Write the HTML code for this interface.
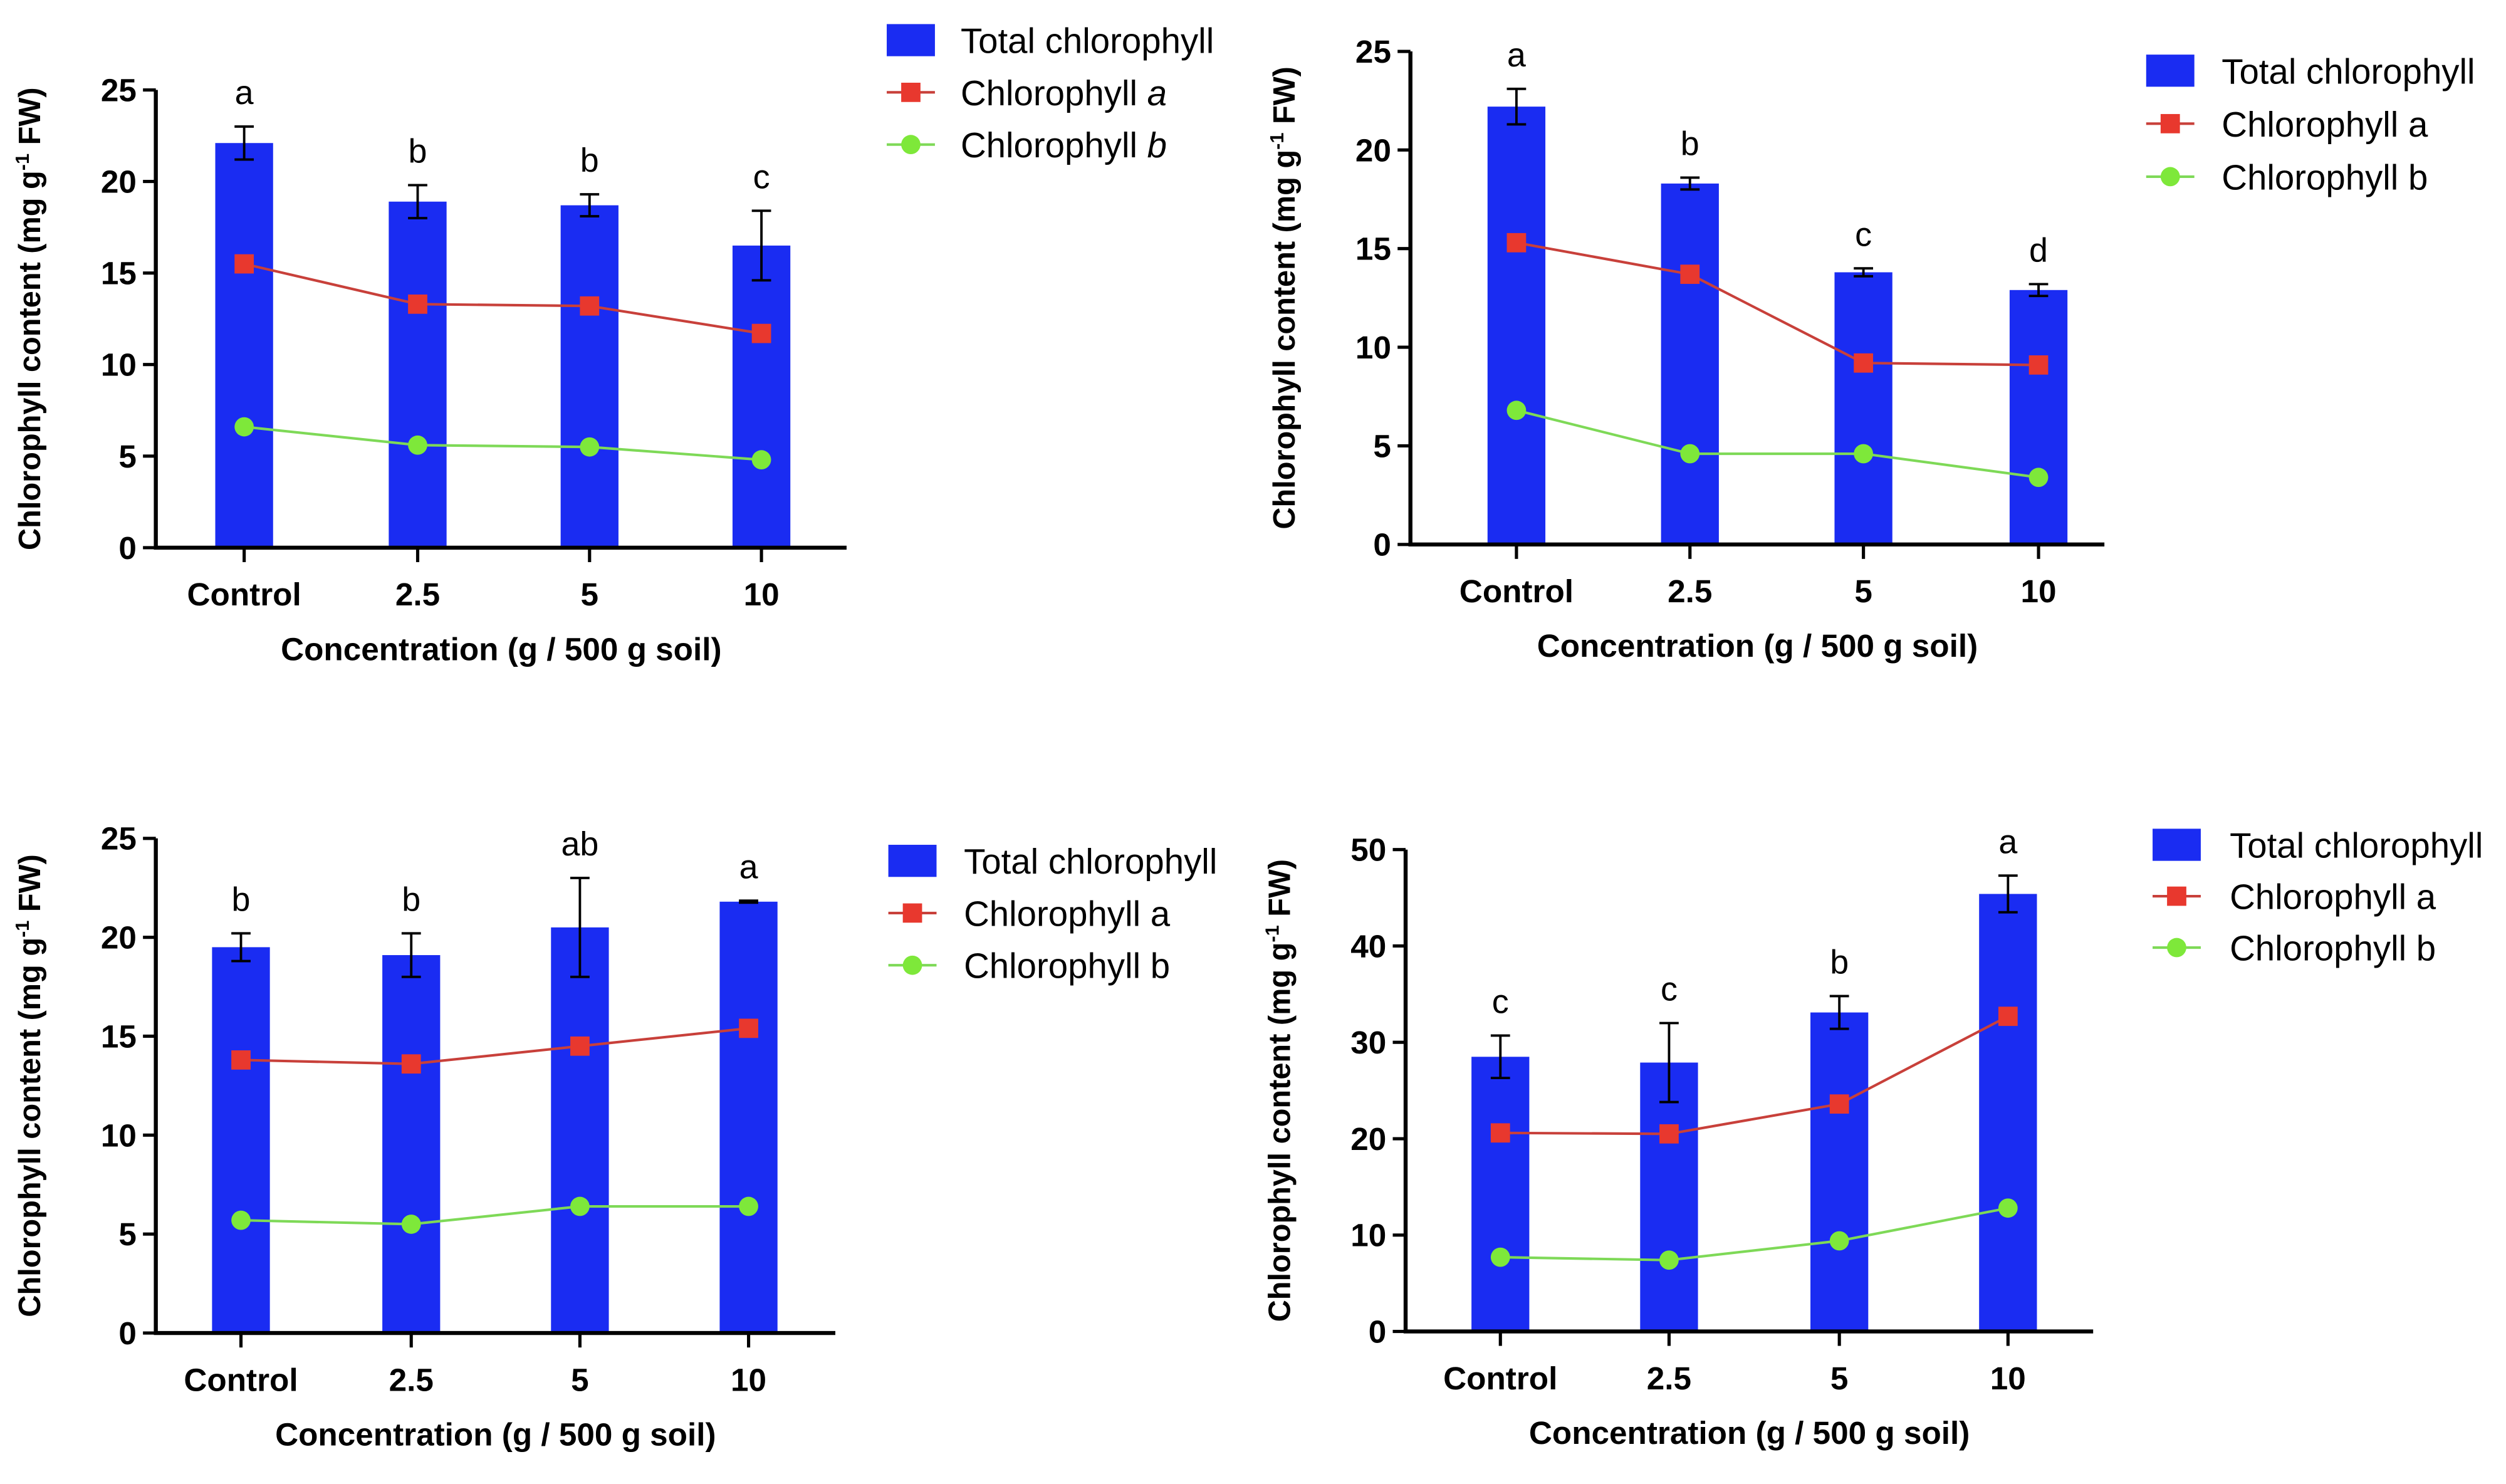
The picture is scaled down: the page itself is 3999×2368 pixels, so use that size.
<!DOCTYPE html>
<html><head><meta charset="utf-8"><style>
html,body{margin:0;padding:0;background:#fff;}
svg{display:block;}
text{font-family:"Liberation Sans Narrow","Liberation Sans",sans-serif;}
</style></head><body>
<svg id="fig" width="3999" height="2368" viewBox="0 0 1560 924" preserveAspectRatio="none" xmlns="http://www.w3.org/2000/svg"></svg>
<script>
const categories = ["Control","2.5","5","10"];
const tlTotal = [22.1,18.9,18.7,16.5];
const tlTotalErr = [0.9,0.9,0.6,1.9];
const tlA = [15.5,13.3,13.2,11.7];
const tlB = [6.6,5.6,5.5,4.8];
const tlLetters = ["a","b","b","c"];
const trTotal = [22.2,18.3,13.8,12.9];
const trTotalErr = [0.9,0.3,0.2,0.3];
const trA = [15.3,13.7,9.2,9.1];
const trB = [6.8,4.6,4.6,3.4];
const trLetters = ["a","b","c","d"];
const blTotal = [19.5,19.1,20.5,21.8];
const blTotalErr = [0.7,1.1,2.5,0.05];
const blA = [13.8,13.6,14.5,15.4];
const blB = [5.7,5.5,6.4,6.4];
const blLetters = ["b","b","ab","a"];
const brTotal = [28.5,27.9,33.1,45.4];
const brTotalErr = [2.2,4.1,1.7,1.9];
const brA = [20.6,20.5,23.6,32.7];
const brB = [7.7,7.4,9.4,12.8];
const brLetters = ["c","c","b","a"];
const ticks25 = [0,5,10,15,20,25];
const ticks50 = [0,10,20,30,40,50];

const NS="http://www.w3.org/2000/svg";
const svg=document.getElementById('fig');
function mk(tag,attrs,parent,txt){const e=document.createElementNS(NS,tag);for(const k in attrs)e.setAttribute(k,attrs[k]);if(txt!==undefined)e.textContent=txt;(parent||svg).appendChild(e);return e;}

function chart(p){
  const g=mk('g',{});
  
  
  const y=v=>p.y0-(v/p.max)*(p.y0-p.yTop);
  const bw=36;
  p.total.forEach((v,i)=>{
    const b=mk('rect',{x:p.cx[i]-bw/2,y:y(v),width:bw,height:p.y0-y(v),fill:'#1a2cf2'},g);
    
    
    const e=p.err[i];
    const eb=mk('path',{d:`M${p.cx[i]} ${y(v-e)}V${y(v+e)}M${p.cx[i]-6} ${y(v+e)}H${p.cx[i]+6}M${p.cx[i]-6} ${y(v-e)}H${p.cx[i]+6}`,stroke:'#000','stroke-width':1.5,fill:'none'},g);
    
    
    const l=mk('text',{x:p.cx[i],y:y(v+e)-14,'text-anchor':'middle','font-size':21},g,p.letters[i]);
    
    
  });
  const la=mk('polyline',{points:p.a.map((v,i)=>p.cx[i]+','+y(v)).join(' '),fill:'none',stroke:'#c8403a','stroke-width':1.6},g);
  
  
  const lb=mk('polyline',{points:p.b.map((v,i)=>p.cx[i]+','+y(v)).join(' '),fill:'none',stroke:'#7ed957','stroke-width':1.6},g);
  
  
  p.a.forEach((v,i)=>{const m=mk('rect',{x:p.cx[i]-6,y:y(v)-6,width:12,height:12,fill:'#e8382e'},g);
    
    });
  p.b.forEach((v,i)=>{const m=mk('circle',{cx:p.cx[i],cy:y(v),r:6,fill:'#7ee83a'},g);
    
    });
  const ax=mk('path',{d:`M${p.ax} ${p.yTop}V${p.y0}H${p.xEnd}`,stroke:'#000','stroke-width':2.5,fill:'none'},g);
  
  
  p.ticks.forEach(t=>{
    mk('path',{d:`M${p.ax-8} ${y(t)}H${p.ax}`,stroke:'#000','stroke-width':2},g);
    const tl=mk('text',{x:p.ax-12,y:y(t)+7,'text-anchor':'end','font-size':20,'font-weight':'bold'},g,t);
    
    
  });
  categories.forEach((c,i)=>{
    mk('path',{d:`M${p.cx[i]} ${p.y0}V${p.y0+9}`,stroke:'#000','stroke-width':2},g);
    const tl=mk('text',{x:p.cx[i],y:p.y0+36,'text-anchor':'middle','font-size':20,'font-weight':'bold'},g,c);
    
    
  });
  const xt=mk('text',{x:(p.ax+p.xEnd)/2,y:p.y0+70,'text-anchor':'middle','font-size':20,'font-weight':'bold'},g,'Concentration (g / 500 g soil)');
  
  
  const yc=(p.yTop+p.y0)/2;
  const yt=mk('text',{x:0,y:0,transform:`translate(${p.ax-72},${yc}) rotate(-90)`,'text-anchor':'middle','font-size':19,'font-weight':'bold','font-family':'Liberation Sans, sans-serif'},g);
  
  
  yt.innerHTML='Chlorophyll content (mg g<tspan dy="-7" font-size="12">-1</tspan><tspan dy="7"> FW)</tspan>';
  const lg=mk('g',{},g);
  
  
  const L=p.leg;
  mk('rect',{x:L.x,y:L.y-10,width:30,height:20,fill:'#1a2cf2'},lg);
  mk('text',{x:L.tx,y:L.y+8,'font-size':22},lg,'Total chlorophyll');
  mk('path',{d:`M${L.x} ${L.y+L.dy}H${L.x+30}`,stroke:'#c8403a','stroke-width':1.6},lg);
  mk('rect',{x:L.x+9,y:L.y+L.dy-6,width:12,height:12,fill:'#e8382e'},lg);
  const ta=mk('text',{x:L.tx,y:L.y+L.dy+8,'font-size':22},lg);
  ta.innerHTML='Chlorophyll '+(p.italic?'<tspan font-style="italic">a</tspan>':'a');
  mk('path',{d:`M${L.x} ${L.y+2*L.dy}H${L.x+30}`,stroke:'#7ed957','stroke-width':1.6},lg);
  mk('circle',{cx:L.x+15,cy:L.y+2*L.dy,r:6,fill:'#7ee83a'},lg);
  const tb=mk('text',{x:L.tx,y:L.y+2*L.dy+8,'font-size':22},lg);
  tb.innerHTML='Chlorophyll '+(p.italic?'<tspan font-style="italic">b</tspan>':'b');
}

chart({name:'chart-top-left',ax:97,xEnd:527,y0:341,yTop:56,max:25,cx:[152,260,367,474],total:tlTotal,err:tlTotalErr,a:tlA,b:tlB,letters:tlLetters,ticks:ticks25,leg:{x:552,tx:598,y:25,dy:32.5},italic:true});
chart({name:'chart-top-right',ax:878,xEnd:1310,y0:339,yTop:32,max:25,cx:[944,1052,1160,1269],total:trTotal,err:trTotalErr,a:trA,b:trB,letters:trLetters,ticks:ticks25,leg:{x:1336,tx:1383,y:44,dy:33},italic:false});
chart({name:'chart-bottom-left',ax:97,xEnd:520,y0:830,yTop:522,max:25,cx:[150,256,361,466],total:blTotal,err:blTotalErr,a:blA,b:blB,letters:blLetters,ticks:ticks25,leg:{x:553,tx:600,y:536,dy:32.5},italic:false});
chart({name:'chart-bottom-right',ax:875,xEnd:1303,y0:829,yTop:529,max:50,cx:[934,1039,1145,1250],total:brTotal,err:brTotalErr,a:brA,b:brB,letters:brLetters,ticks:ticks50,leg:{x:1340,tx:1388,y:526,dy:32},italic:false});
</script>
</body></html>
